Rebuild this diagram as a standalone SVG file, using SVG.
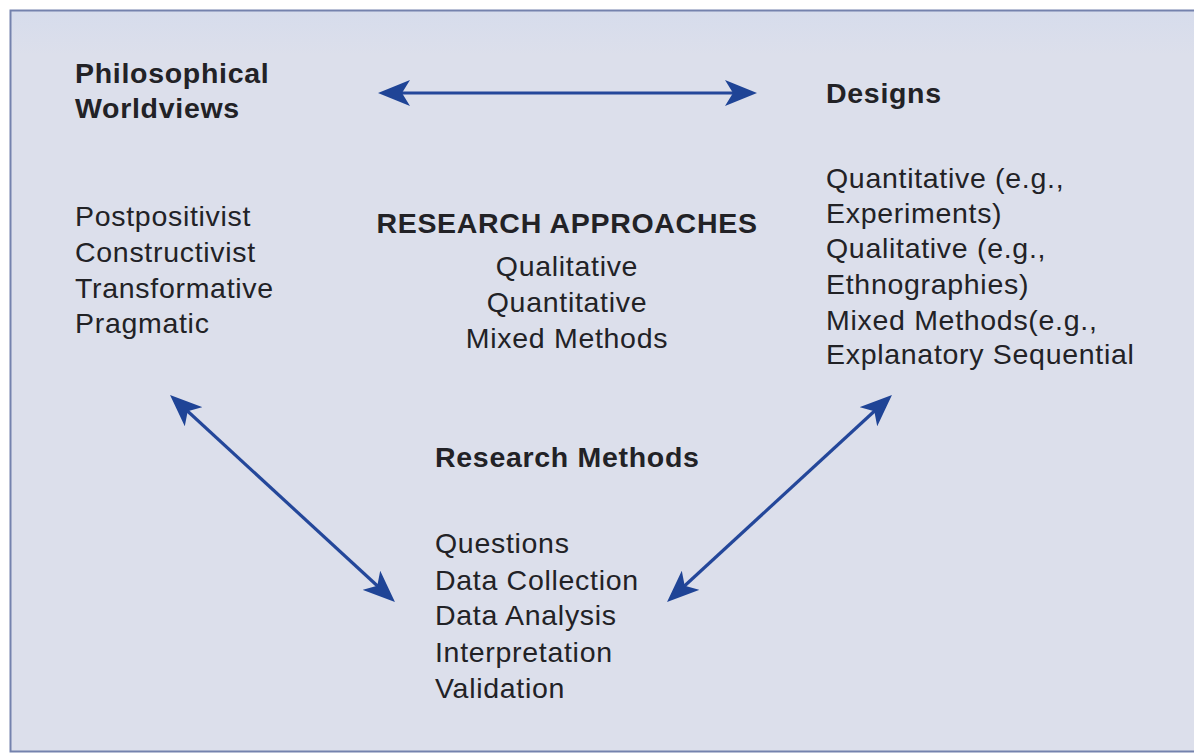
<svg xmlns="http://www.w3.org/2000/svg" width="1194" height="754" viewBox="0 0 1194 754">
<defs>
<linearGradient id="bg" x1="0" y1="0" x2="0" y2="1">
<stop offset="0" stop-color="#d6dcec"/>
<stop offset="0.06" stop-color="#dcdfeb"/>
<stop offset="1" stop-color="#dcdfeb"/>
</linearGradient>
<marker id="ah" markerUnits="userSpaceOnUse" viewBox="0 0 32 26" markerWidth="32" markerHeight="26" refX="22" refY="13" orient="auto-start-reverse">
<path d="M0,0 L32,13 L0,26 L8,13 Z" fill="#1f4496"/>
</marker>
<style>
.t{font-family:"Liberation Sans",Arial,Helvetica,sans-serif;font-size:28.5px;letter-spacing:0.7px;fill:#222226}
.b{font-weight:bold}
.c{text-anchor:middle}
.conn line{stroke:#24479a;stroke-width:3.2;fill:none}
</style>
</defs>
<rect x="0" y="0" width="1194" height="754" fill="#ffffff"/>
<rect x="10.5" y="10.5" width="1200" height="741" fill="url(#bg)" stroke="#7482ad" stroke-width="2"/>

<g id="worldviews">
<text class="t b" x="75" y="83">Philosophical</text>
<text class="t b" x="75" y="118">Worldviews</text>
<text class="t" x="75" y="226">Postpositivist</text>
<text class="t" x="75" y="262">Constructivist</text>
<text class="t" x="75" y="298">Transformative</text>
<text class="t" x="75" y="333">Pragmatic</text>
</g>

<g id="approaches">
<text class="t b c" x="567" y="233">RESEARCH APPROACHES</text>
<text class="t c" x="567" y="276">Qualitative</text>
<text class="t c" x="567" y="312">Quantitative</text>
<text class="t c" x="567" y="348">Mixed Methods</text>
</g>

<g id="designs">
<text class="t b" x="826" y="103">Designs</text>
<text class="t" x="826" y="188">Quantitative (e.g.,</text>
<text class="t" x="826" y="223">Experiments)</text>
<text class="t" x="826" y="258">Qualitative (e.g.,</text>
<text class="t" x="826" y="294">Ethnographies)</text>
<text class="t" x="826" y="330">Mixed Methods(e.g.,</text>
<text class="t" x="826" y="364">Explanatory Sequential</text>
</g>

<g id="methods">
<text class="t b" x="435" y="467">Research Methods</text>
<text class="t" x="435" y="553">Questions</text>
<text class="t" x="435" y="590">Data Collection</text>
<text class="t" x="435" y="625">Data Analysis</text>
<text class="t" x="435" y="662">Interpretation</text>
<text class="t" x="435" y="698">Validation</text>
</g>

<g id="connectors" class="conn">
<line x1="388" y1="93" x2="747" y2="93" marker-start="url(#ah)" marker-end="url(#ah)"/>
<line x1="177.4" y1="401.8" x2="387.6" y2="595.2" marker-start="url(#ah)" marker-end="url(#ah)"/>
<line x1="884.6" y1="401.8" x2="674.4" y2="595.2" marker-start="url(#ah)" marker-end="url(#ah)"/>
</g>
</svg>
